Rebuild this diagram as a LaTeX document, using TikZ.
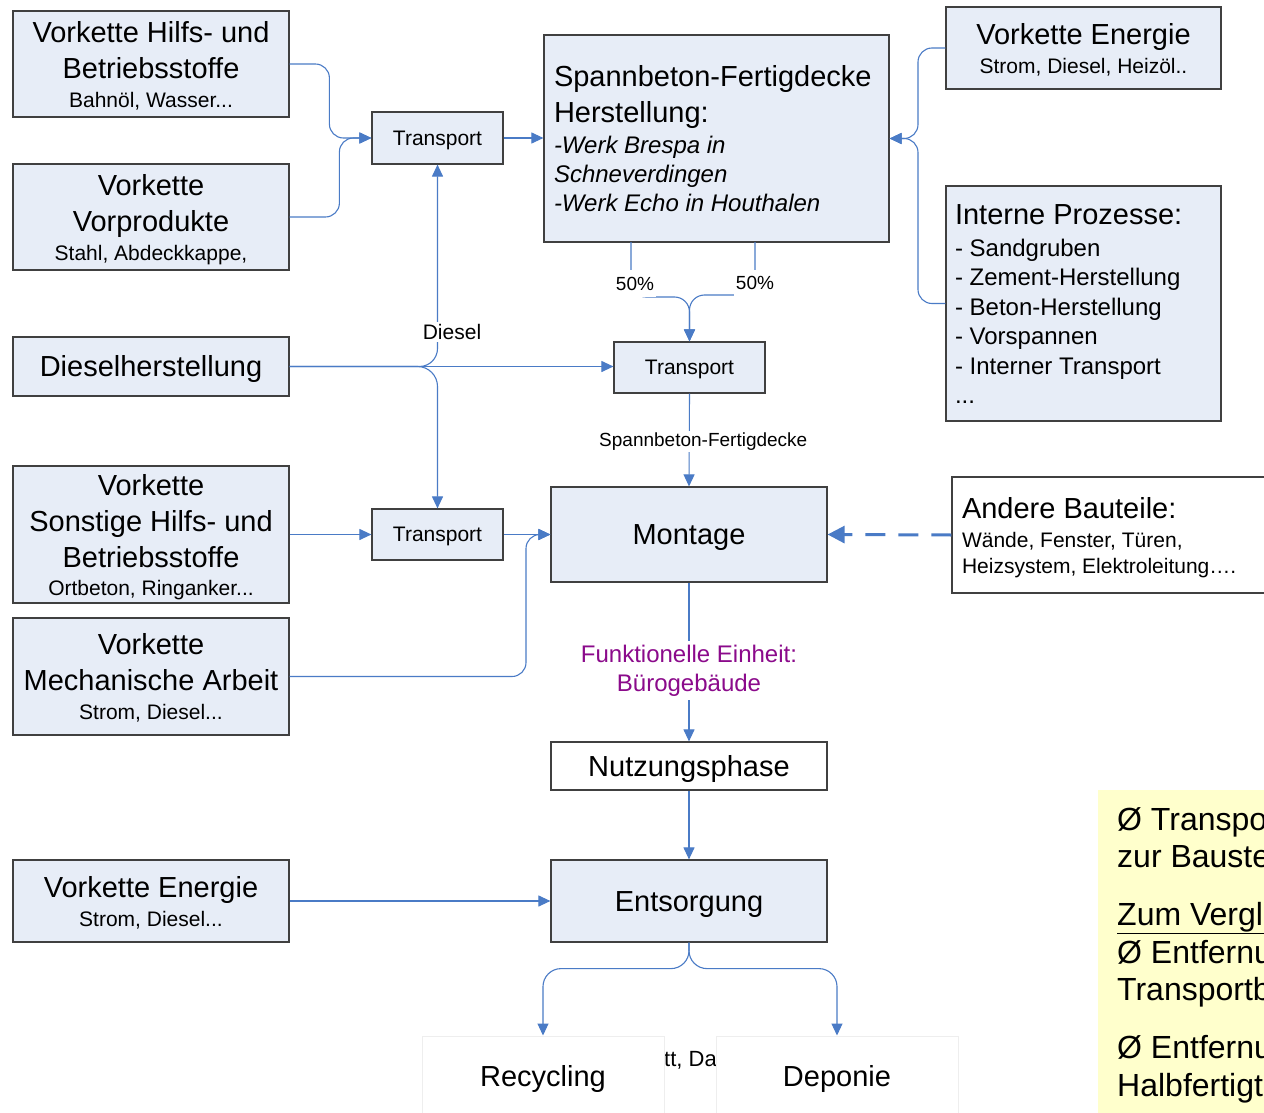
\documentclass[tikz,border=0pt]{standalone}
\usepackage{fontspec}
\setmainfont{Liberation Sans}
\usetikzlibrary{arrows.meta}
\definecolor{boxblue}{HTML}{E7EDF7}
\definecolor{bordergray}{HTML}{404040}
\definecolor{linkblue}{HTML}{4A7BC6}
\definecolor{notey}{HTML}{FFFFCC}
\definecolor{purp}{HTML}{8B0A8B}
\definecolor{faint}{HTML}{EEEEEE}
\newcommand{\fbig}{\fontsize{29}{36}\selectfont}
\newcommand{\fsm}{\fontsize{21}{36}\selectfont}
\newcommand{\fmid}{\fontsize{24}{36}\selectfont}
\newcommand{\flab}{\fontsize{19}{23}\selectfont}
\newcommand{\ftr}{\fontsize{21}{25}\selectfont}
\newcommand{\strt}{\rule[-0.212em]{0pt}{1.117em}}
\tikzset{
  box/.style={draw=bordergray, fill=boxblue, line width=1.2pt, inner xsep=4pt, inner ysep=0pt, align=flush center, font=\fbig},
  wbox/.style={box, fill=white},
  trbox/.style={box, font=\ftr},
  conn/.style={draw=linkblue, line width=1.1pt, -{Triangle[length=12pt,width=11pt]}},
  dashconn/.style={draw=linkblue, line width=3pt, dash pattern=on 20pt off 13pt, -{Triangle[length=17pt,width=17pt]}},
  lbl/.style={fill=white, inner sep=2pt, font=\flab},
}
\begin{document}
\begin{tikzpicture}[x=1pt,y=-1pt]
\useasboundingbox (0,0) rectangle (1264,1113);
\clip (0,0) rectangle (1264,1113);
\fill[white] (0,0) rectangle (1264,1113);

% left column
\node[box, minimum width=276, minimum height=106, text width=268] (vhb) at (151,64)
  {\strt Vorkette Hilfs- und\\Betriebsstoffe\\[-7.5pt]{\fsm Bahnöl, Wasser...\strt}};
\node[box, minimum width=276, minimum height=106, text width=268] (vv) at (151,217)
  {\strt Vorkette\\Vorprodukte\\[-7.5pt]{\fsm Stahl, Abdeckkappe,\strt}};
\node[box, minimum width=276, minimum height=59] (dh) at (151,366.5) {\strt Dieselherstellung};
\node[box, minimum width=276, minimum height=137, text width=268] (vshb) at (151,534.5)
  {\strt Vorkette\\Sonstige Hilfs- und\\Betriebsstoffe\\[-7.5pt]{\fsm Ortbeton, Ringanker...\strt}};
\node[box, minimum width=276, minimum height=117, text width=268] (vma) at (151,676.5)
  {\strt Vorkette\\Mechanische Arbeit\\[-7pt]{\fsm Strom, Diesel...\strt}};
\node[box, minimum width=276, minimum height=82, text width=268] (veb) at (151,901)
  {\strt Vorkette Energie\\[-7.5pt]{\fsm Strom, Diesel...\strt}};

% transports
\node[trbox, minimum width=131, minimum height=52] (t1) at (437.5,138) {\strt Transport};
\node[trbox, minimum width=151, minimum height=51] (t2) at (689.5,367.5) {\strt Transport};
\node[trbox, minimum width=131, minimum height=51] (t3) at (437.5,534.5) {\strt Transport};

% main
\node[box, align=flush left, inner xsep=10pt, minimum width=345, minimum height=207, text width=325] (sb) at (716.5,138.5)
  {\strt Spannbeton-Fertigdecke\\Herstellung:\\[-4.5pt]{\fmid\itshape -Werk Brespa in\\[-7pt]Schneverdingen\\[-7pt]-Werk Echo in Houthalen\strt}};
\node[box, minimum width=275, minimum height=82, text width=267] (vet) at (1083.5,48)
  {\strt Vorkette Energie\\[-7pt]{\fsm Strom, Diesel, Heizöl..\strt}};
\node[box, align=flush left, inner xsep=9pt, minimum width=275, minimum height=235, text width=257] (int) at (1083.5,303.5)
  {\strt Interne Prozesse:\\[-4.5pt]{\fmid - Sandgruben\\[-6.5pt]- Zement-Herstellung\\[-6.5pt]- Beton-Herstellung\\[-6.5pt]- Vorspannen\\[-6.5pt]- Interner Transport\\[-6.5pt]...\strt}};
\node[box, minimum width=276, minimum height=95] (mont) at (689,534.5) {\strt Montage};
\node[wbox, align=flush left, inner xsep=10pt, minimum width=348, minimum height=116, text width=328] (and) at (1126,535)
  {\strt Andere Bauteile:\\[-6.5pt]{\fsm Wände, Fenster, Türen,\\[-10pt]Heizsystem, Elektroleitung….\strt}};
\node[wbox, minimum width=276, minimum height=48] (nutz) at (689,766) {\strt Nutzungsphase};
\node[box, minimum width=276, minimum height=82] (ents) at (689,901) {\strt Entsorgung};

% bottom
\node[font=\fontsize{22}{26}\selectfont, anchor=base east, inner sep=0pt] (frag) at (717,1066) {tt, Da};
\node[wbox, draw=faint, line width=1pt, minimum width=242, minimum height=80] (rec) at (543,1076) {\strt Recycling};
\node[wbox, draw=faint, line width=1pt, minimum width=242, minimum height=80] (dep) at (837,1076) {\strt Deponie};

% note
\node[fill=notey, anchor=north west, align=flush left, inner xsep=19pt, inner ysep=17pt, text width=320,
  font=\fontsize{32}{37.5}\selectfont] (note) at (1098,790)
  {Ø Transport\\zur Baustelle\\[20.5pt]\underline{Zum Vergleich}\\Ø Entfernung\\Transportbeton\\[20.5pt]Ø Entfernung\\Halbfertigteile};

% connectors
\draw[conn, rounded corners=14] (vhb.east) -| ([xshift=-42]t1.west) -- (t1.west);
\draw[conn, rounded corners=14] (vv.east) -| ([xshift=-32]t1.west) -- (t1.west);
\draw[conn] (t1.east) -- (t1.east -| sb.west);
\draw[conn, rounded corners=14] (vet.west) -| (918,138.5) -- (sb.east);
\draw[conn, rounded corners=14] (int.west) -| (918,138.5) -- (sb.east);

\draw[conn] (dh.east) -- (dh.east -| t2.west);
\draw[conn, rounded corners=18] (dh.east) -| (t1.south);
\draw[conn, rounded corners=20] (dh.east) -| (t3.north);
\node[lbl, font=\ftr] (dlab) at (452,332) {Diesel};

\coordinate (j1) at (689.5,297);
\coordinate (j2) at (689.5,295);
\draw[conn, rounded corners=15] (631,242) |- (j1) -- (t2.north);
\draw[conn, rounded corners=15] (755,242) |- (j2) -- (t2.north);
\node[lbl, minimum height=27] (p1) at (635,283.5) {50\%};
\node[lbl, minimum height=27] (p2) at (755,283) {50\%};

\draw[conn] (t2.south) -- (mont.north) node[lbl, pos=0.5, xshift=14, yshift=-1.5] (sfl) {Spannbeton-Fertigdecke};
\draw[conn] (vshb.east) -- (t3.west);
\draw[conn] (t3.east) -- (mont.west);
\draw[conn, rounded corners=14] (vma.east) -| (526,534.5) -- (mont.west);
\draw[dashconn] (and.west) -- (mont.east);

\draw[conn] (mont.south) -- (nutz.north) node[pos=0.54, yshift=-2, fill=white, inner xsep=3pt, inner ysep=4pt, align=flush center, text=purp, font=\fontsize{24}{29}\selectfont] (fe) {Funktionelle Einheit:\\Bürogebäude};
\draw[conn] (nutz.south) -- (ents.north);
\draw[conn] (veb.east) -- (ents.west);
\draw[conn, rounded corners=18] (ents.south) -- ++(0,26) -| (rec.north);
\draw[conn, rounded corners=18] (ents.south) -- ++(0,26) -| (dep.north);
\end{tikzpicture}
\end{document}
